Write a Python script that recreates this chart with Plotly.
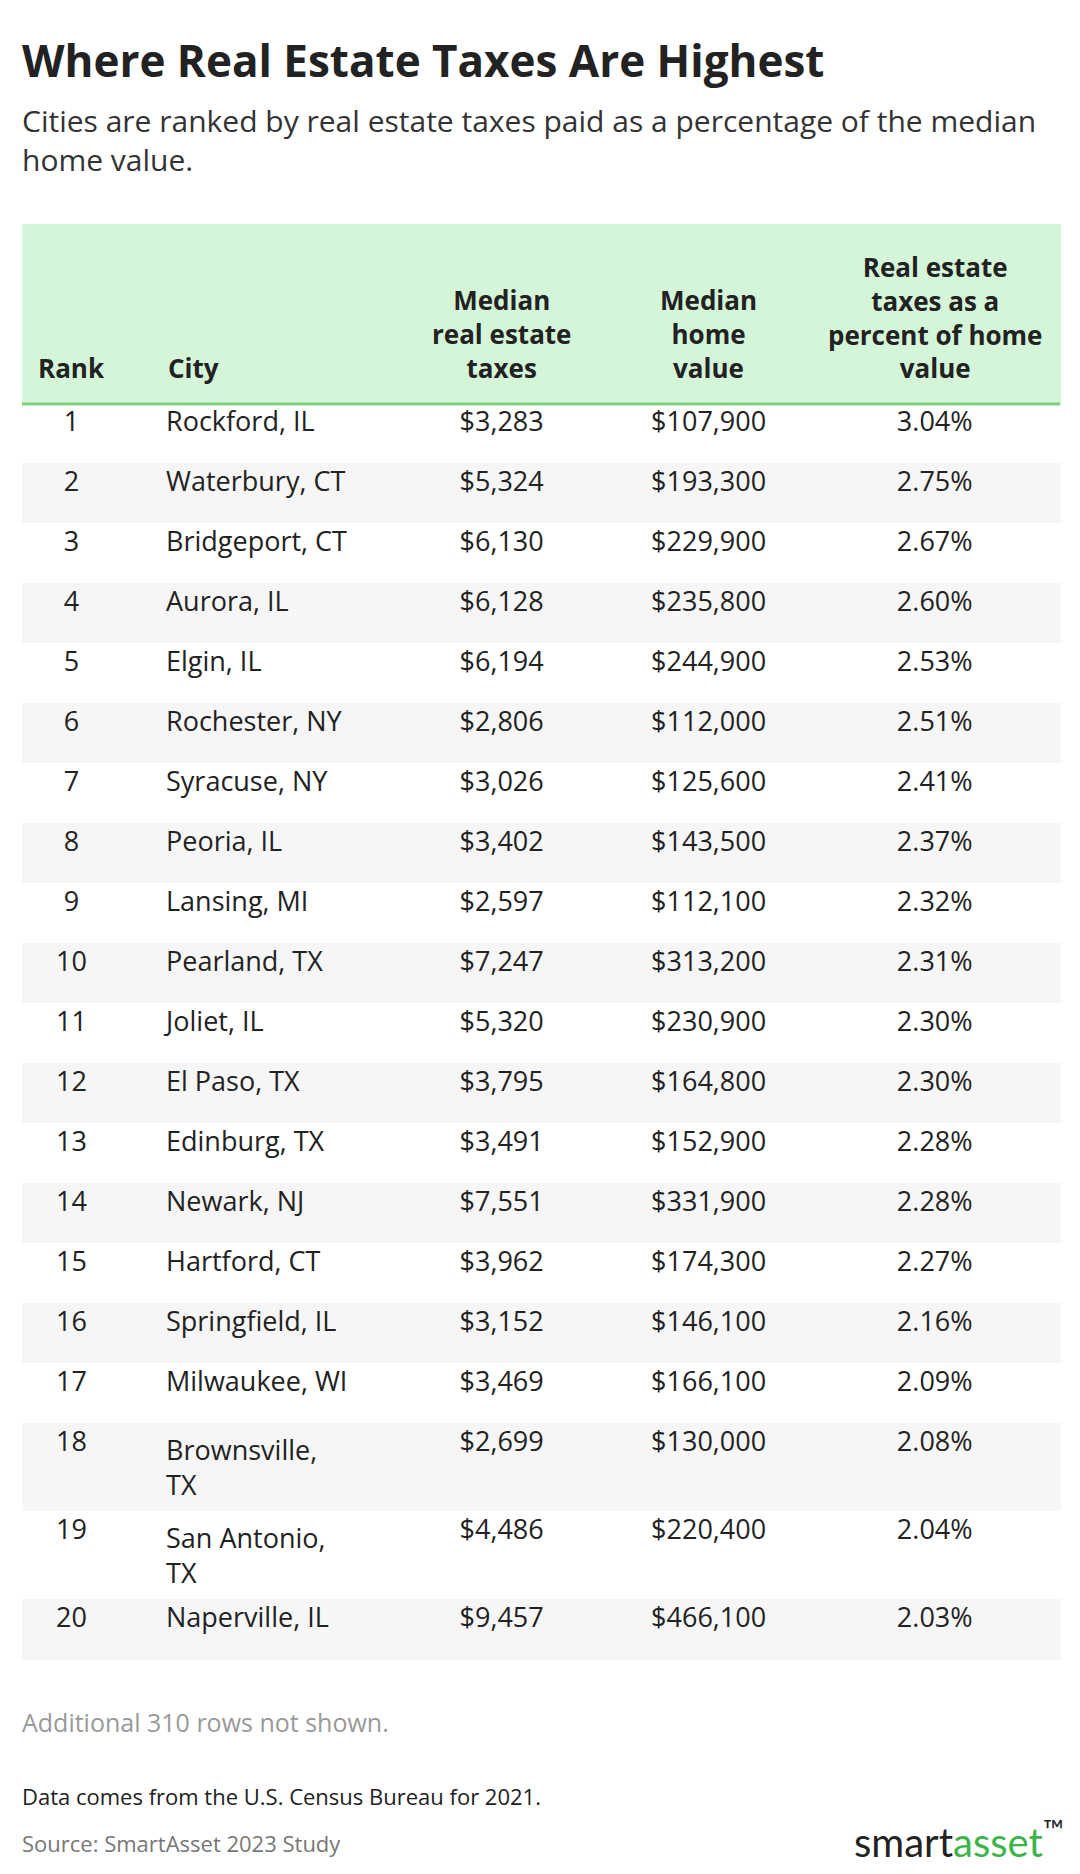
import plotly.graph_objects as go

ranks = list(range(1, 21))
cities = ["Rockford, IL", "Waterbury, CT", "Bridgeport, CT", "Aurora, IL", "Elgin, IL",
          "Rochester, NY", "Syracuse, NY", "Peoria, IL", "Lansing, MI", "Pearland, TX",
          "Joliet, IL", "El Paso, TX", "Edinburg, TX", "Newark, NJ", "Hartford, CT",
          "Springfield, IL", "Milwaukee, WI", "Brownsville,<br>TX", "San Antonio,<br>TX", "Naperville, IL"]
taxes = [3283, 5324, 6130, 6128, 6194, 2806, 3026, 3402, 2597, 7247,
         5320, 3795, 3491, 7551, 3962, 3152, 3469, 2699, 4486, 9457]
home_values = [107900, 193300, 229900, 235800, 244900, 112000, 125600, 143500, 112100, 313200,
               230900, 164800, 152900, 331900, 174300, 146100, 166100, 130000, 220400, 466100]
pct = [3.04, 2.75, 2.67, 2.60, 2.53, 2.51, 2.41, 2.37, 2.32, 2.31,
       2.30, 2.30, 2.28, 2.28, 2.27, 2.16, 2.09, 2.08, 2.04, 2.03]
headers = ["Rank", "", "City", "Median<br>real estate<br>taxes", "Median<br>home<br>value",
           "Real estate<br>taxes as a<br>percent of home<br>value"]
header_align = ["center", "left", "left", "center", "center", "center"]
colwidths = [83, 31, 199, 178, 169, 210]

F = "Open Sans"
n = len(ranks)
fills = ["#ffffff" if i % 2 == 0 else "#f6f6f6" for i in range(n)]
X0, X1 = 14/1080, 1052/1080

fig = go.Figure(go.Table(
    domain=dict(x=[X0, X1], y=[0.0, 1 - 216/1874]),
    columnwidth=colwidths,
    header=dict(values=[""] * 6, fill_color="#d4f5d8", height=179,
                line=dict(color="#d4f5d8", width=1)),
    cells=dict(values=[ranks, [""] * n, cities,
                       [f"${v:,}" for v in taxes],
                       [f"${v:,}" for v in home_values],
                       [f"{v:.2f}%" for v in pct]],
               fill_color=[fills] * 6, height=60,
               align=["center", "left", "left", "center", "center", "center"],
               font=dict(family=F, size=27, color="#222"),
               line=dict(color=[fills] * 6, width=1)),
))

tot = sum(colwidths)
left = X0
for h, al, w in zip(headers, header_align, colwidths):
    span = (X1 - X0) * w / tot
    if h:
        if al == "center":
            xx, xa = left + span / 2, "center"
        else:
            xx, xa = left + 8/1080, "left"
        fig.add_annotation(text=f"<b>{h}</b>", xref="paper", yref="paper", x=xx, y=1 - 380/1874,
                           xanchor=xa, yanchor="bottom", align=al, showarrow=False,
                           font=dict(family=F, size=26, color="#222"))
    left += span

fig.add_shape(type="line", xref="paper", yref="paper", x0=X0, x1=X1,
              y0=1 - 396/1874, y1=1 - 396/1874, line=dict(color="#7cd07c", width=3))

anns = [
    dict(text="<b>Where Real Estate Taxes Are Highest</b>", x=12, y=52, size=44, color="#222"),
    dict(text="Cities are ranked by real estate taxes paid as a percentage of the median<br>home value.",
         x=12, y=132, size=30, color="#333"),
    dict(text="Additional 310 rows not shown.", x=12, y=1714, size=25, color="#999"),
    dict(text="Data comes from the U.S. Census Bureau for 2021.", x=12, y=1788, size=22, color="#222"),
    dict(text="Source: SmartAsset 2023 Study", x=12, y=1835, size=22, color="#777"),
]
for a in anns:
    fig.add_annotation(text=a["text"], xref="paper", yref="paper", x=a["x"]/1080, y=1 - a["y"]/1874,
                       xanchor="left", yanchor="middle", align="left", showarrow=False,
                       font=dict(family=F, size=a["size"], color=a["color"]))
fig.add_annotation(text="<span style='color:#222'>smart</span><span style='color:#3bb54a'>asset</span><sup>™</sup>",
                   xref="paper", yref="paper", x=1058/1080, y=1 - 1831/1874, xanchor="right",
                   yanchor="middle", showarrow=False, font=dict(family="Lato", size=40, color="#222"))

fig.update_layout(width=1080, height=1874, margin=dict(l=0, r=0, t=0, b=0),
                  paper_bgcolor="white", plot_bgcolor="white")
fig.write_html("out.html")
